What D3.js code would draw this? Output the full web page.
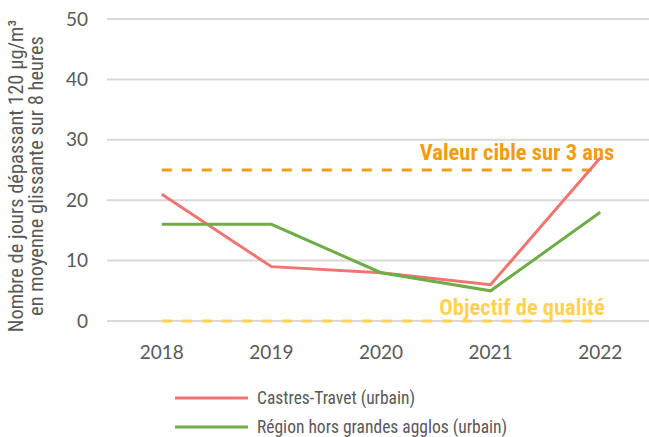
<!DOCTYPE html>
<html><head><meta charset="utf-8">
<script src="https://cdn.jsdelivr.net/npm/d3@7"></script>
<style>body{margin:0;background:#fff}svg{display:block}</style>
</head><body><svg id="c" width="649" height="437"></svg>
<script>
const years = ["2018","2019","2020","2021","2022"];
const castres = [21, 9, 8, 6, 27];
const region = [16, 16, 8, 5, 18];
const targetValue = 25;
const objectiveValue = 0;
const yTicks = [0, 10, 20, 30, 40, 50];
const seriesNames = ["Castres-Travet (urbain)", "Région hors grandes agglos (urbain)"];
const seriesColors = ["#F07470", "#70AD47"];

(function(){
const svg = d3.select("#c");
const mLeft = 107, mRight = 655, mTop = 19, mBottom = 321;
const x = d3.scalePoint().domain(years).range([mLeft, mRight]).padding(0.5);
const y = d3.scaleLinear().domain([0, 50]).range([mBottom, mTop]);
const tickFont = "Lato, 'Open Sans', sans-serif";
const narrow = "'Liberation Sans Narrow', 'Arial Narrow', 'Roboto Condensed', sans-serif";

svg.append("g").selectAll("line").data(yTicks).join("line")
  .attr("x1", mLeft).attr("x2", 649)
  .attr("y1", d => y(d)).attr("y2", d => y(d))
  .attr("stroke", "#D9D9D9").attr("stroke-width", 2);

svg.append("g").selectAll("text").data(yTicks).join("text")
  .attr("x", 88).attr("y", d => y(d)).attr("dy", "0.35em")
  .attr("text-anchor", "end").attr("font-family", tickFont)
  .attr("font-size", 19).attr("fill", "#595959").text(d => d);

svg.append("g").selectAll("text").data(years).join("text")
  .attr("x", d => x(d)).attr("y", 359)
  .attr("text-anchor", "middle").attr("font-family", tickFont)
  .attr("font-size", 19).attr("fill", "#595959").text(d => d);

const refs = [
  {v: targetValue, color: "#F39C12", label: "Valeur cible sur 3 ans", ly: 160, lx: 517, fs: 22.5},
  {v: objectiveValue, color: "#FFD34F", label: "Objectif de qualité", ly: 315, lx: 522, fs: 22.5}
];
svg.append("g").selectAll("line").data(refs).join("line")
  .attr("x1", x(years[0])).attr("x2", x(years[years.length-1]))
  .attr("y1", d => y(d.v)).attr("y2", d => y(d.v))
  .attr("stroke", d => d.color).attr("stroke-width", 3)
  .attr("stroke-dasharray", "10,10");
svg.append("g").selectAll("text").data(refs).join("text")
  .attr("x", d => d.lx).attr("y", d => d.ly)
  .attr("text-anchor", "middle").attr("font-family", narrow)
  .attr("font-weight", "bold").attr("font-size", d => d.fs)
  .attr("fill", d => d.color).text(d => d.label);

const line = d3.line().x((d, i) => x(years[i])).y(d => y(d));
[castres, region].forEach((s, k) => {
  svg.append("path").datum(s).attr("d", line)
    .attr("fill", "none").attr("stroke", seriesColors[k])
    .attr("stroke-width", 3).attr("stroke-linejoin", "miter");
});

const t = svg.append("text").attr("transform", "translate(0,176) rotate(-90)")
  .attr("text-anchor", "middle").attr("font-family", narrow)
  .attr("font-size", 20.5).attr("fill", "#595959");
t.append("tspan").attr("x", 0).attr("y", 23).text("Nombre de jours dépassant 120 µg/m³");
t.append("tspan").attr("x", 0).attr("y", 43).text("en moyenne glissante sur 8 heures");

const lg = svg.append("g");
seriesNames.forEach((n, k) => {
  const ly = 398 + k * 29;
  lg.append("line").attr("x1", 175).attr("x2", 248).attr("y1", ly).attr("y2", ly)
    .attr("stroke", seriesColors[k]).attr("stroke-width", 3);
  lg.append("text").attr("x", 257).attr("y", ly).attr("dy", "0.35em")
    .attr("font-family", narrow).attr("font-size", 17.5).attr("fill", "#595959").text(n);
});
})();
</script></body></html>
